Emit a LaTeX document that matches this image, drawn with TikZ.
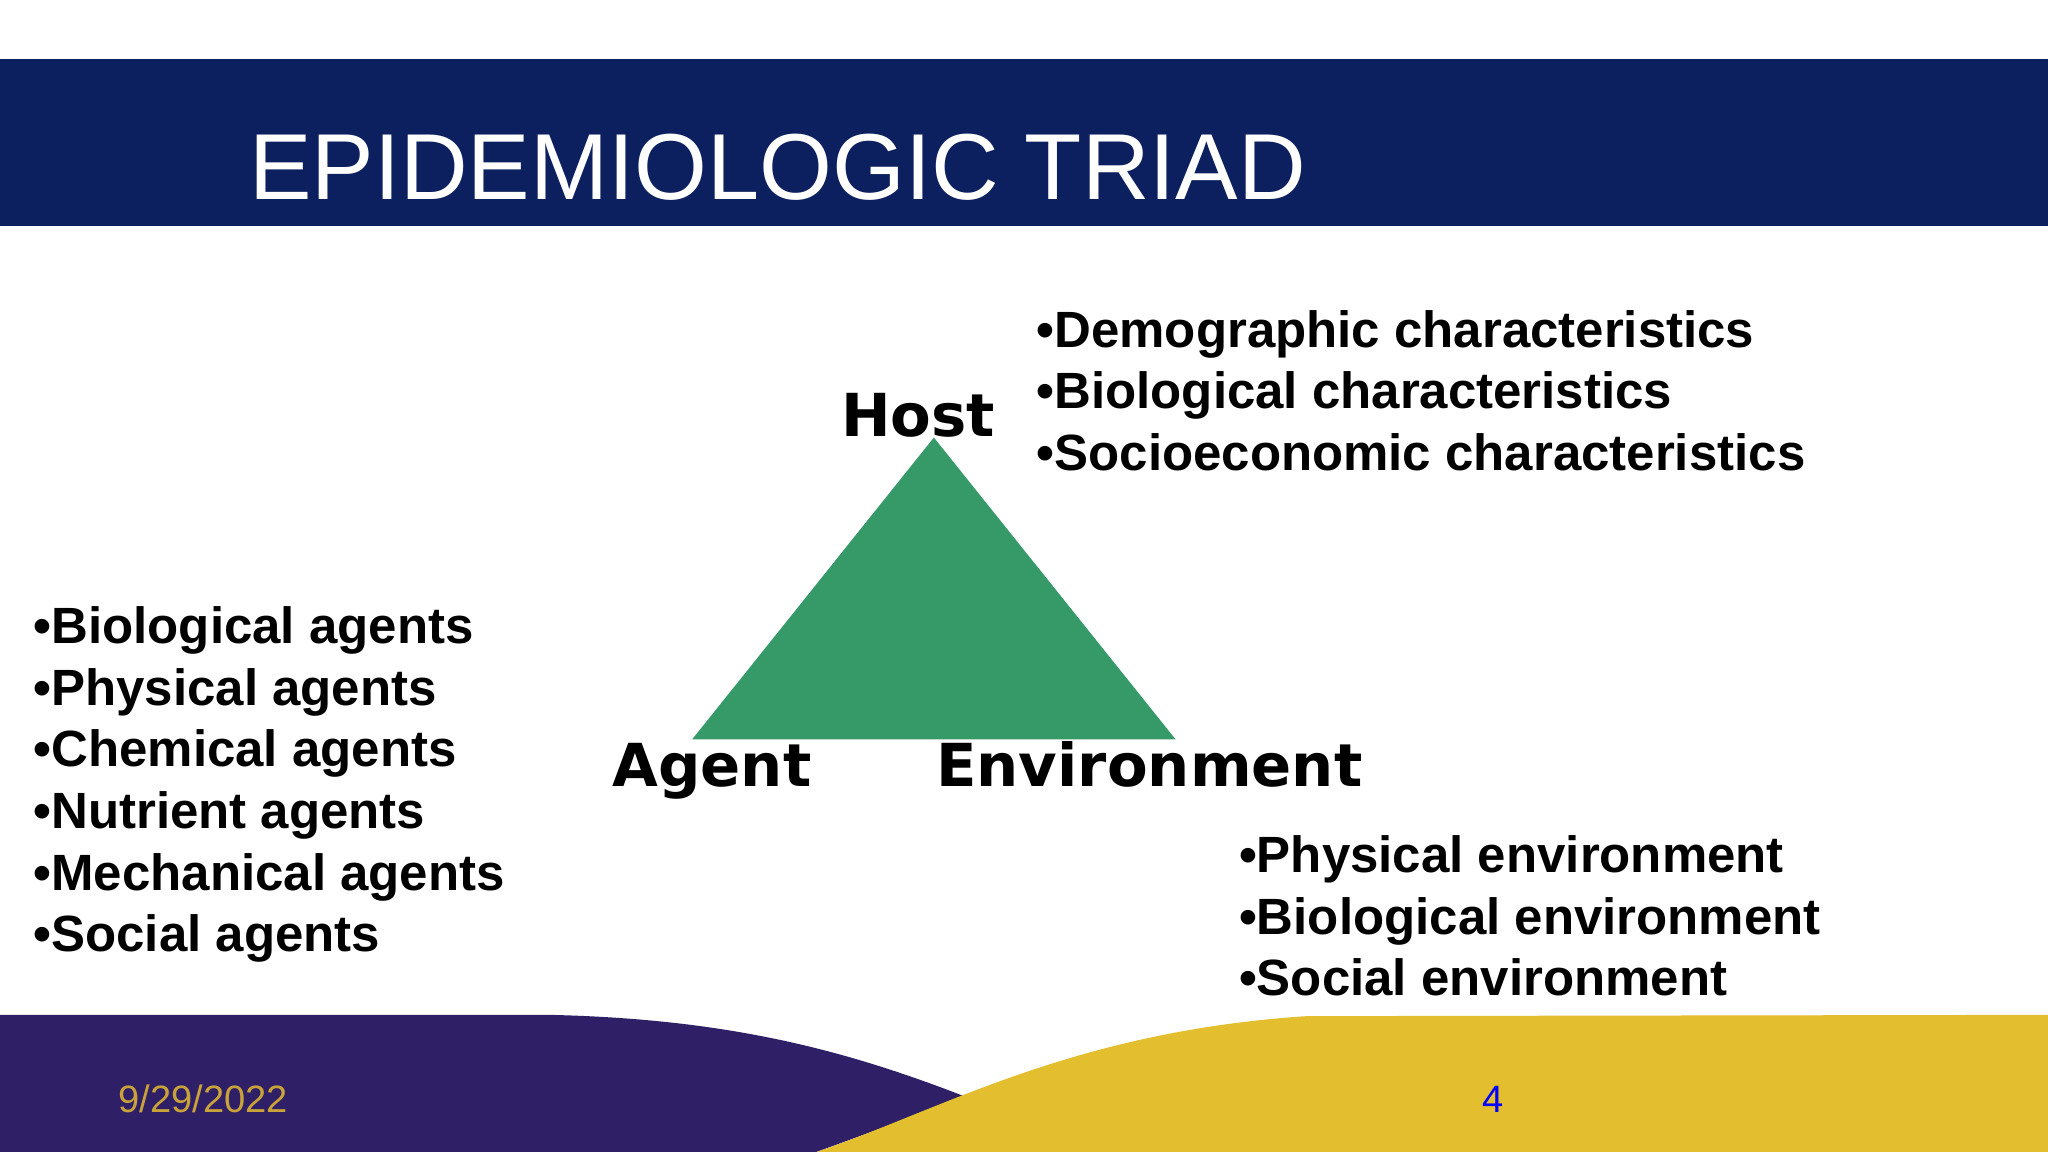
\documentclass[tikz,border=0pt]{standalone}
\usepackage{fontspec}
\setmainfont{Liberation Sans}
\newfontfamily\vfont{DejaVu Sans}
\definecolor{navy}{HTML}{0C1F5E}
\definecolor{tri}{HTML}{359A68}
\definecolor{purp}{HTML}{2E1F66}
\definecolor{yel}{HTML}{E3BE2E}
\definecolor{gold}{HTML}{C9A23A}
\begin{document}
\begin{tikzpicture}[x=0.01cm,y=-0.01cm,
  bul/.style={anchor=north west,align=left,font=\fontsize{11.1}{13.4}\selectfont\bfseries,inner sep=0},
  lab/.style={anchor=base,font=\vfont\fontsize{12.9}{15}\selectfont\bfseries,inner sep=0}]
\useasboundingbox (0,0) rectangle (1568,882);
\fill[white] (0,0) rectangle (1568,882);
\fill[navy] (0,45) rectangle (1568,173);
\node[anchor=base west,inner sep=0,text=white,font=\fontsize{20.4}{24}\selectfont] (title) at (190,153) {EPIDEMIOLOGIC TRIAD};
\fill[tri] (715,335) -- (900,566) -- (530,566) -- cycle;
\node[lab] (host) at (703,334) {Host};
\node[lab] (agent) at (545,602) {Agent};
\node[lab] (env) at (880,602) {Environment};
\node[bul] (hb) at (793,237) {•Demographic characteristics\\•Biological characteristics\\•Socioeconomic characteristics};
\node[bul] (ab) at (25,464) {•Biological agents\\•Physical agents\\•Chemical agents\\•Nutrient agents\\•Mechanical agents\\•Social agents};
\node[bul] (eb) at (948,639) {•Physical environment\\•Biological environment\\•Social environment};
\fill[purp] (0,777) -- (420,777) .. controls (560,780) and (650,805) .. (740,840) -- (625,882) -- (0,882) -- cycle;
\fill[yel] (625,882) .. controls (720,850) and (820,790) .. (1000,778) -- (1568,777) -- (1568,882) -- cycle;
\node[anchor=base west,inner sep=0,text=gold,font=\fontsize{8.3}{10}\selectfont] (date) at (90,852) {9/29/2022};
\node[anchor=base,inner sep=0,text=blue,font=\fontsize{8.3}{10}\selectfont] (num) at (1143,852) {4};
\end{tikzpicture}
\end{document}
